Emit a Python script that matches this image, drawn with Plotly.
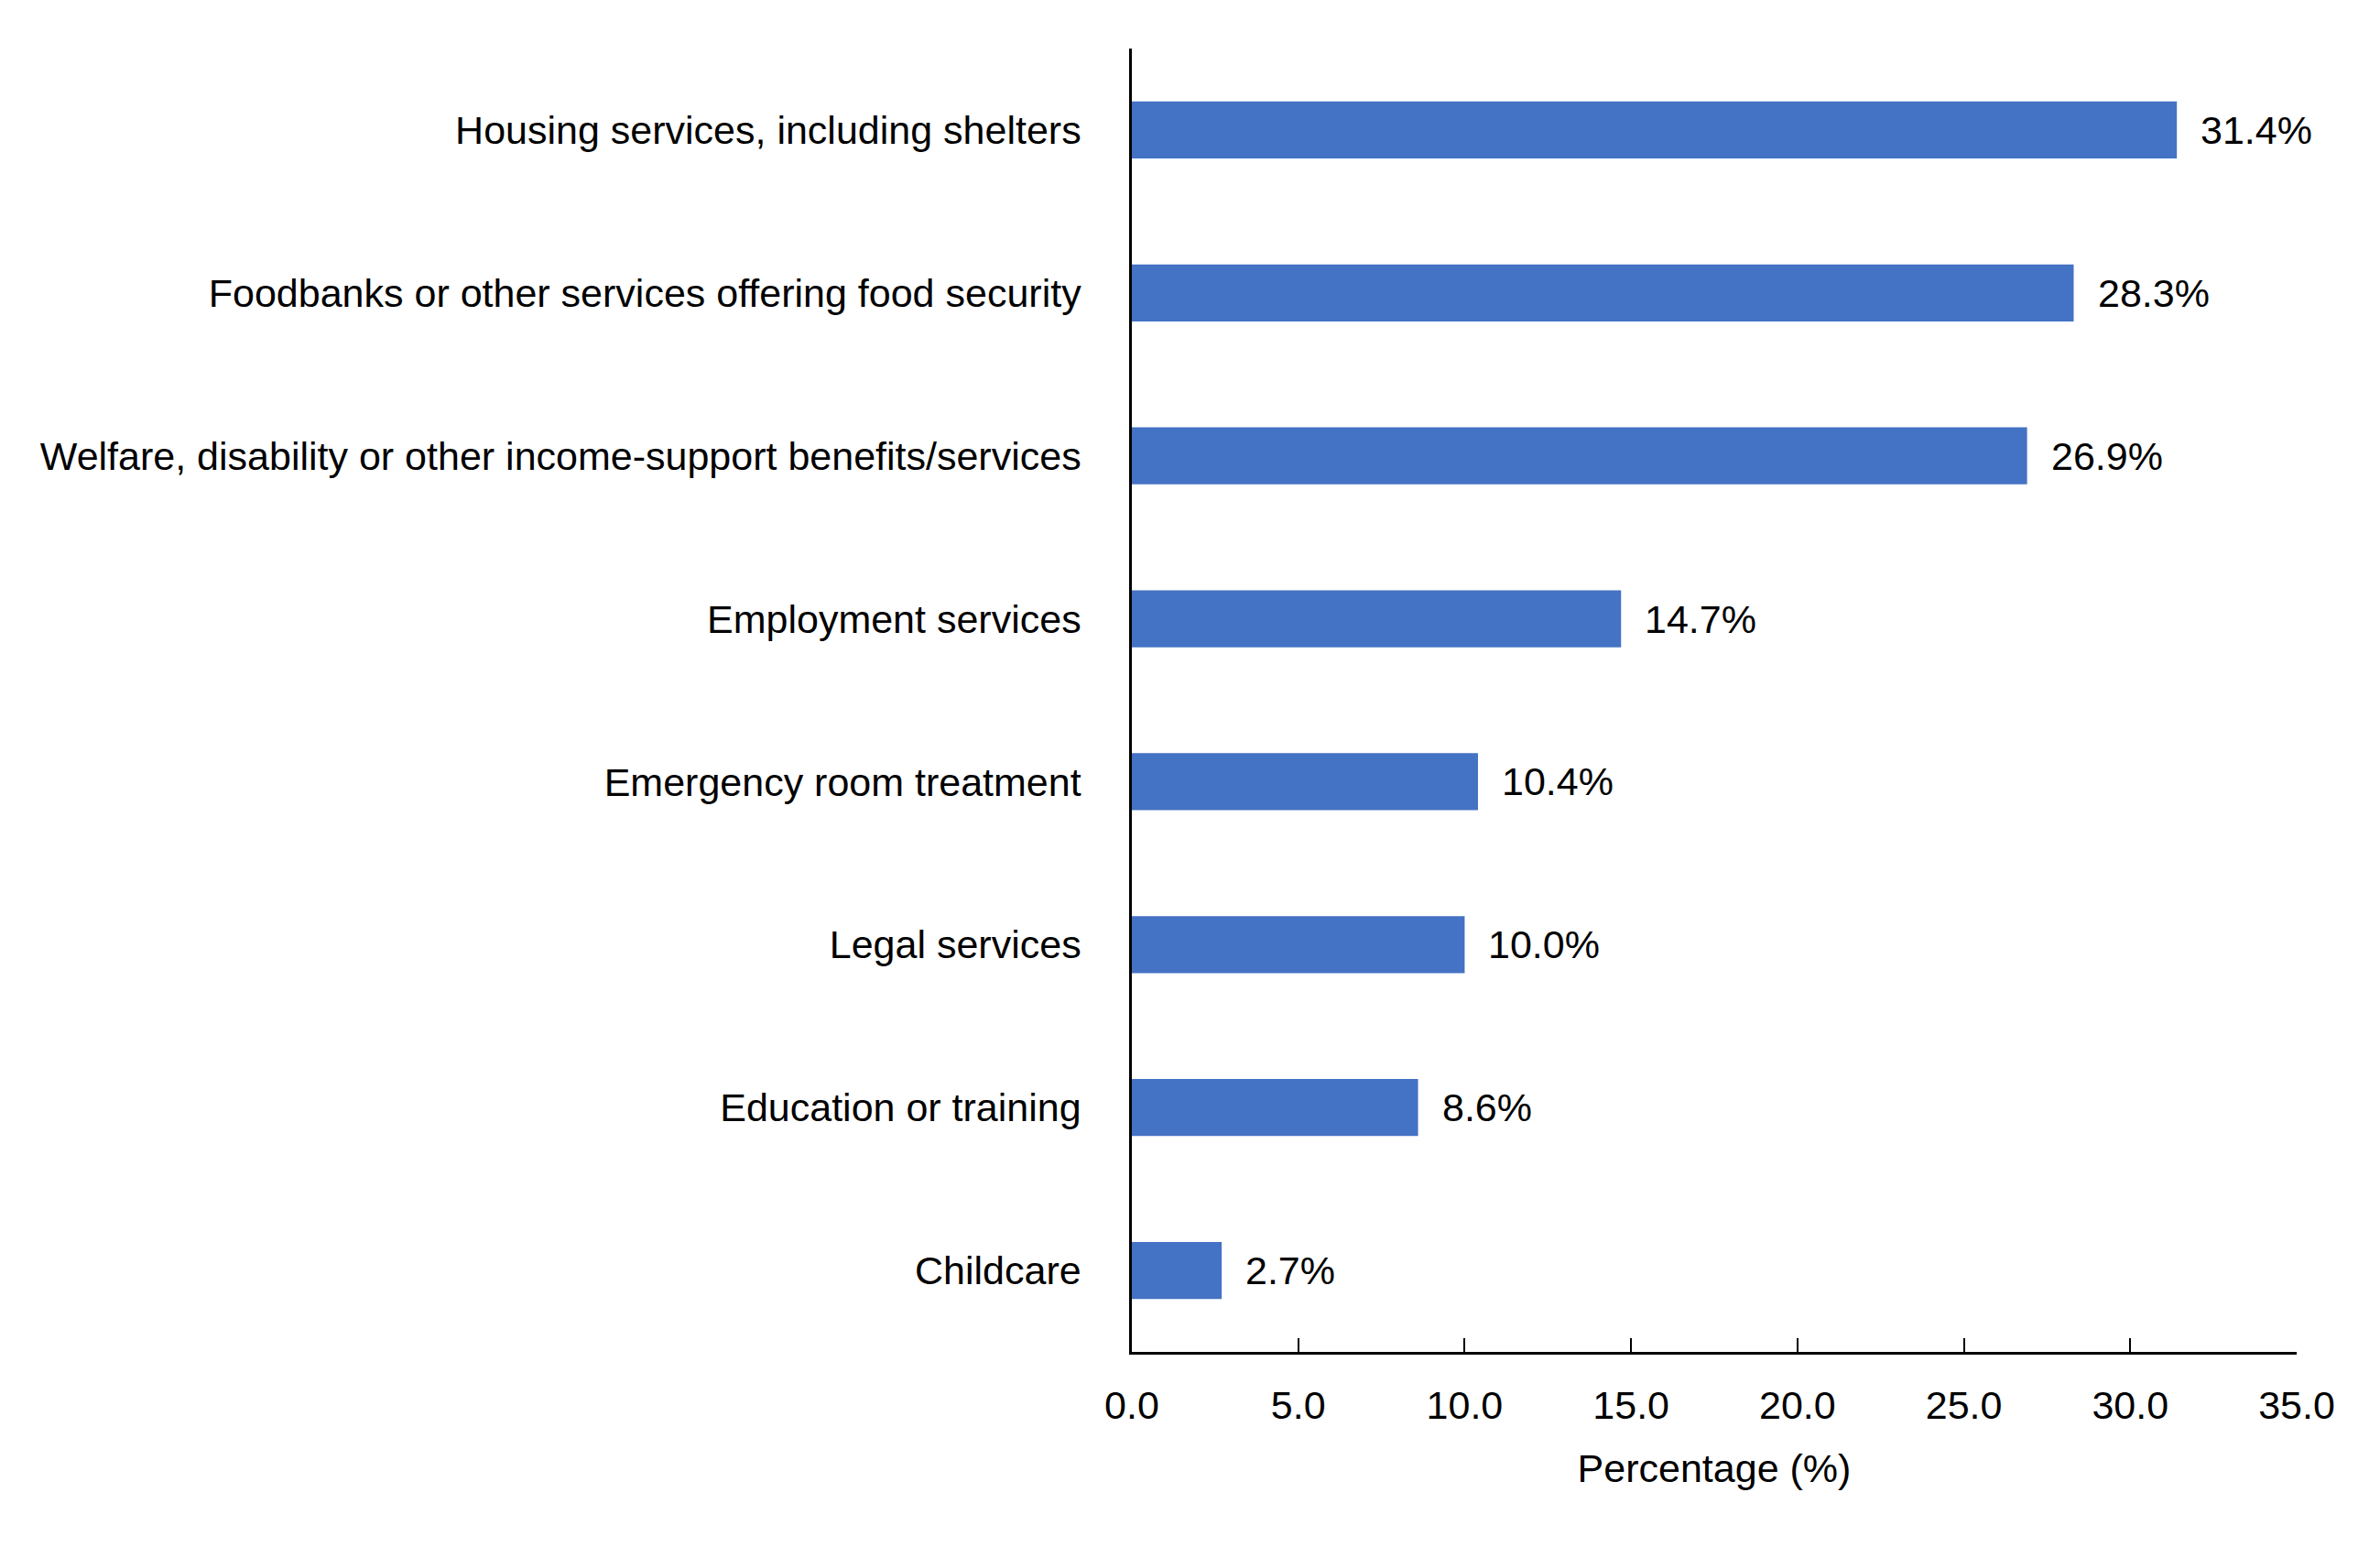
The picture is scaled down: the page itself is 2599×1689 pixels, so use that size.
import plotly.graph_objects as go

categories = [
    "Housing services, including shelters",
    "Foodbanks or other services offering food security",
    "Welfare, disability or other income-support benefits/services",
    "Employment services",
    "Emergency room treatment",
    "Legal services",
    "Education or training",
    "Childcare",
]
values = [31.4, 28.3, 26.9, 14.7, 10.4, 10.0, 8.6, 2.7]
x_ticks = [0, 5, 10, 15, 20, 25, 30, 35]
x_tick_labels = ["0.0", "5.0", "10.0", "15.0", "20.0", "25.0", "30.0", "35.0"]

FONT = "Liberation Sans Narrow, Arial Narrow, Liberation Sans, Arial, sans-serif"
FS = 43

fig = go.Figure(
    go.Bar(
        x=values,
        y=categories,
        orientation="h",
        marker=dict(color="#4472C4", line=dict(width=0)),
        hoverinfo="skip",
    )
)

for c, v in zip(categories, values):
    fig.add_annotation(
        x=v, y=c, text=f"{v:.1f}%", showarrow=False,
        xanchor="left", yanchor="middle", xshift=24,
        font=dict(family=FONT, size=FS, color="black"),
    )

fig.update_layout(
    width=2599, height=1689,
    margin=dict(l=1228, r=99, t=45, b=221),
    paper_bgcolor="white", plot_bgcolor="white",
    bargap=0.65,
    showlegend=False,
    font=dict(family=FONT, size=FS, color="black"),
)
fig.update_xaxes(
    range=[0, 35], tickvals=x_ticks, ticktext=x_tick_labels,
    showgrid=False, zeroline=False, automargin=False,
    showline=True, linecolor="black", linewidth=3,
    ticks="inside", ticklen=15, tickwidth=2, tickcolor="black",
    ticklabelstandoff=18,
    tickfont=dict(family=FONT, size=FS, color="black"),
    title=dict(text="Percentage (%)", font=dict(family=FONT, size=FS, color="black"), standoff=32),
)
fig.update_yaxes(
    categoryorder="array", categoryarray=categories[::-1],
    showgrid=False, zeroline=False, automargin=False,
    showline=True, linecolor="black", linewidth=2.5,
    ticks="", ticklabelstandoff=44,
    tickfont=dict(family=FONT, size=FS, color="black"),
)

fig.write_html("out.html")
